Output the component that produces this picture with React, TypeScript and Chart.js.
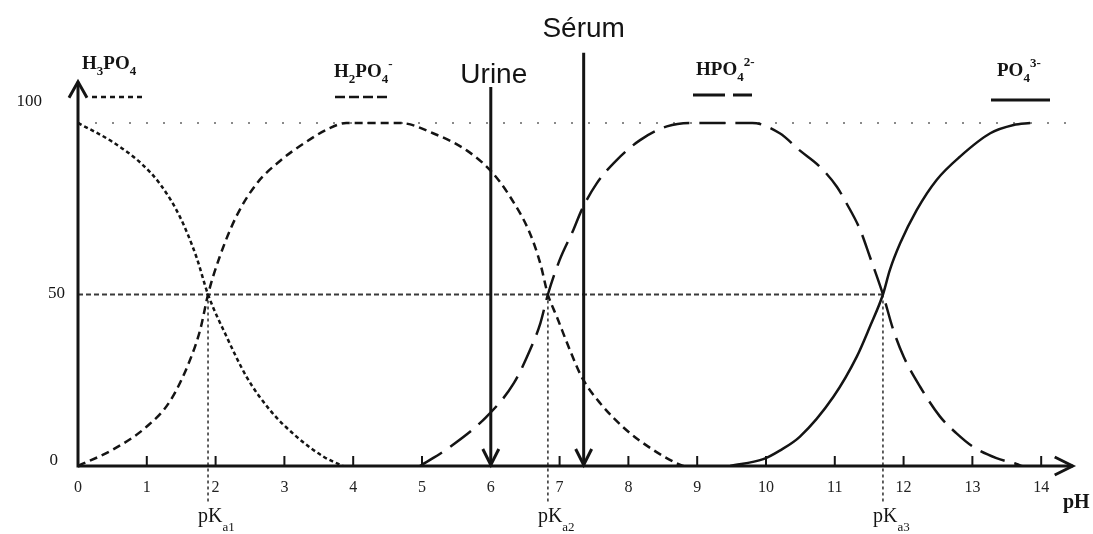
import React, { useEffect, useRef } from 'react';
import { Chart, registerables } from 'chart.js';

Chart.register(...registerables);

// ---- Data ----
const h3po4PH = [0, 0.5, 0.93, 1.2, 1.48, 1.72, 1.89, 2.16, 2.45, 2.79, 3.18, 3.57, 3.85];
const h3po4Pct = [100, 94.5, 88, 82, 72.7, 61, 50, 37.7, 26, 16.3, 8.5, 2.7, 0];

const h2po4PH = [0, 0.5, 1, 1.34, 1.63, 1.78, 1.89, 2.06, 2.3, 2.6, 2.94, 3.28, 3.66, 3.9, 4.68, 5.16, 5.65, 6.01, 6.28, 6.57, 6.72, 6.83, 6.96, 7.15, 7.32, 7.59, 7.97, 8.36, 8.7, 8.8];
const h2po4Pct = [0, 4.7, 11.5, 19, 31, 40, 50, 61, 72.7, 82.4, 89, 94, 98.5, 100, 100, 97, 92, 85.8, 78.5, 67.8, 59, 50, 43.5, 33.8, 26, 18.3, 10.5, 4.7, 0.8, 0];

const hpo4PH = [4.97, 5.41, 5.94, 6.33, 6.57, 6.72, 6.83, 7.0, 7.2, 7.32, 7.54, 7.83, 8.17, 8.56, 8.9, 9.8, 10.2, 10.49, 10.78, 11.03, 11.17, 11.37, 11.51, 11.7, 11.85, 12.0, 12.24, 12.53, 12.77, 13.01, 13.35, 13.64, 13.72];
const hpo4Pct = [0, 5.6, 14.4, 24, 33.8, 41.6, 50, 60, 68.8, 74.6, 82.4, 89.2, 95, 99, 100, 100, 97, 92, 87.3, 81.4, 76.6, 68.8, 61, 50, 39.7, 31.9, 23.1, 14.4, 9.5, 5.6, 2.3, 0.6, 0];

const po4PH = [9.48, 9.96, 10.2, 10.49, 10.98, 11.32, 11.51, 11.7, 11.8, 11.95, 12.19, 12.48, 12.82, 13.26, 13.6, 13.84];
const po4Pct = [0, 2, 4.5, 8.5, 20.2, 31.9, 40.6, 50, 57.1, 64.9, 74.6, 83.4, 90.2, 97, 99.4, 100];

const xTickValues = [0, 1, 2, 3, 4, 5, 6, 7, 8, 9, 10, 11, 12, 13, 14];
const yTickLabels = ['0', '50', '100'];
const pKaPH = [1.89, 6.83, 11.7];
const pKaSubs = ['a1', 'a2', 'a3'];
const halfLevel = 50;
const fullLevel = 100;
const markerPH = [6.0, 7.35];
const markerNames = ['Urine', 'Sérum'];

// ---- Styles / layout (not data) ----
const INK = '#141414';
const SERIF = '"Liberation Serif", "DejaVu Serif", serif';
const SANS = '"Liberation Sans", Arial, sans-serif';

type Part = [string, 'n' | 'b' | 'p'];

function drawRich(ctx: CanvasRenderingContext2D, x: number, y: number, parts: Part[], size: number, weight = 'bold') {
  let cx = x;
  ctx.textBaseline = 'alphabetic';
  ctx.textAlign = 'left';
  for (const [t, k] of parts) {
    const s = k === 'n' ? size : Math.round(size * 0.68);
    ctx.font = `${weight} ${s}px ${SERIF}`;
    const dy = k === 'b' ? size * 0.3 : k === 'p' ? -size * 0.5 : 0;
    ctx.fillText(t, cx, y + dy);
    cx += ctx.measureText(t).width;
  }
}

function chevron(ctx: CanvasRenderingContext2D, tx: number, ty: number, ax: number, ay: number, bx: number, by: number) {
  ctx.beginPath();
  ctx.moveTo(ax, ay);
  ctx.lineTo(tx, ty);
  ctx.lineTo(bx, by);
  ctx.stroke();
}

const legendItems: { parts: Part[]; tx: number; ty: number; x1: number; x2: number; ly: number; dash: number[]; w: number }[] = [
  { parts: [['H', 'n'], ['3', 'b'], ['PO', 'n'], ['4', 'b']], tx: 82, ty: 69, x1: 92, x2: 144, ly: 97, dash: [5, 4], w: 2.5 },
  { parts: [['H', 'n'], ['2', 'b'], ['PO', 'n'], ['4', 'b'], ['-', 'p']], tx: 334, ty: 77, x1: 335, x2: 389, ly: 97, dash: [10, 4], w: 2.5 },
  { parts: [['HPO', 'n'], ['4', 'b'], ['2-', 'p']], tx: 696, ty: 75, x1: 693, x2: 752, ly: 95, dash: [32, 8], w: 3 },
  { parts: [['PO', 'n'], ['4', 'b'], ['3-', 'p']], tx: 997, ty: 76, x1: 991, x2: 1050, ly: 100, dash: [], w: 3 },
];

const decorPlugin = {
  id: 'decor',
  beforeDatasetsDraw(chart: any) {
    const { ctx, scales } = chart;
    const x = scales.x, y = scales.y;
    const x0 = x.getPixelForValue(0);
    const y0 = y.getPixelForValue(0);
    ctx.save();
    // 100 % dotted line
    ctx.strokeStyle = '#8a8a8a';
    ctx.lineWidth = 2;
    ctx.setLineDash([2, 15]);
    ctx.beginPath();
    ctx.moveTo(x0, y.getPixelForValue(fullLevel));
    ctx.lineTo(x.getPixelForValue(14.4), y.getPixelForValue(fullLevel));
    ctx.stroke();
    // 50 % dashed line up to last pKa
    ctx.strokeStyle = '#3a3a3a';
    ctx.lineWidth = 2;
    ctx.setLineDash([5, 3]);
    ctx.beginPath();
    ctx.moveTo(x0, y.getPixelForValue(halfLevel));
    ctx.lineTo(x.getPixelForValue(pKaPH[pKaPH.length - 1]), y.getPixelForValue(halfLevel));
    ctx.stroke();
    // pKa verticals
    ctx.lineWidth = 1.6;
    ctx.setLineDash([3, 3]);
    for (const p of pKaPH) {
      const px = x.getPixelForValue(p);
      ctx.beginPath();
      ctx.moveTo(px, y.getPixelForValue(halfLevel));
      ctx.lineTo(px, y0 + 36);
      ctx.stroke();
    }
    ctx.restore();
  },
  afterDatasetsDraw(chart: any) {
    const { ctx, scales } = chart;
    const x = scales.x, y = scales.y;
    const x0 = x.getPixelForValue(0);
    const y0 = y.getPixelForValue(0);
    ctx.save();
    ctx.strokeStyle = INK;
    ctx.fillStyle = INK;
    ctx.setLineDash([]);
    ctx.lineCap = 'butt';
    // axes
    ctx.lineWidth = 3;
    const xEnd = x.getPixelForValue(14.4) + 4;
    ctx.beginPath();
    ctx.moveTo(x0, y0);
    ctx.lineTo(xEnd, y0);
    ctx.stroke();
    chevron(ctx, xEnd, y0, xEnd - 18, y0 - 9, xEnd - 18, y0 + 9);
    const yTop = y.getPixelForValue(112);
    ctx.beginPath();
    ctx.moveTo(x0, y0 + 1.5);
    ctx.lineTo(x0, yTop);
    ctx.stroke();
    chevron(ctx, x0, yTop, x0 - 9, yTop + 16, x0 + 9, yTop + 16);
    // tick marks above axis
    ctx.lineWidth = 2;
    for (const v of xTickValues) {
      if (v === 0) continue;
      const px = x.getPixelForValue(v);
      ctx.beginPath();
      ctx.moveTo(px, y0);
      ctx.lineTo(px, y0 - 10);
      ctx.stroke();
    }
    // y labels
    ctx.textBaseline = 'middle';
    ctx.textAlign = 'right';
    ctx.font = `17px ${SERIF}`;
    ctx.fillText(yTickLabels[0], 58, y0 - 5);
    ctx.fillText(yTickLabels[1], 65, y.getPixelForValue(50) - 1);
    ctx.fillText(yTickLabels[2], 42, yTop + 20);
    // pH label
    ctx.textAlign = 'left';
    ctx.textBaseline = 'alphabetic';
    ctx.font = `bold 20px ${SERIF}`;
    ctx.fillText('pH', 1063, 508);
    // pKa labels
    pKaPH.forEach((p, i) => {
      const px = x.getPixelForValue(p);
      ctx.font = `20px ${SERIF}`;
      ctx.fillText('pK', px - 10, 522);
      const w = ctx.measureText('pK').width;
      ctx.font = `13px ${SERIF}`;
      ctx.fillText(pKaSubs[i], px - 10 + w, 531);
    });
    // Urine / Serum arrows
    ctx.lineWidth = 3;
    const tops = [110.5, 120.5];
    const textY = [83, 37];
    const textDx = [3, 0];
    markerPH.forEach((p, i) => {
      const px = x.getPixelForValue(p);
      ctx.beginPath();
      ctx.moveTo(px, y.getPixelForValue(tops[i]));
      ctx.lineTo(px, y0 - 1);
      ctx.stroke();
      chevron(ctx, px, y0 - 1, px - 8, y0 - 17, px + 8, y0 - 17);
      ctx.font = `28px ${SANS}`;
      ctx.textAlign = 'center';
      ctx.fillText(markerNames[i], px + textDx[i], textY[i]);
    });
    // legend
    for (const it of legendItems) {
      ctx.fillStyle = INK;
      drawRich(ctx, it.tx, it.ty, it.parts, 19);
      ctx.strokeStyle = INK;
      ctx.lineWidth = it.w;
      ctx.setLineDash(it.dash);
      ctx.beginPath();
      ctx.moveTo(it.x1, it.ly);
      ctx.lineTo(it.x2, it.ly);
      ctx.stroke();
    }
    ctx.restore();
  },
};

function pts(xs: number[], ys: number[]) {
  return xs.map((v, i) => ({ x: v, y: ys[i] }));
}

export default function App() {
  const ref = useRef<HTMLCanvasElement>(null);
  useEffect(() => {
    if (!ref.current) return;
    const common = { pointRadius: 0, borderColor: INK, fill: false, cubicInterpolationMode: 'monotone' as const, borderWidth: 2.5 };
    const chart = new Chart(ref.current, {
      type: 'line',
      data: {
        datasets: [
          { label: 'H3PO4', data: pts(h3po4PH, h3po4Pct), borderDash: [4, 3], ...common },
          { label: 'H2PO4-', data: pts(h2po4PH, h2po4Pct), borderDash: [8, 5], ...common },
          { label: 'HPO4 2-', data: pts(hpo4PH, hpo4Pct), borderDash: [26, 10], ...common },
          { label: 'PO4 3-', data: pts(po4PH, po4Pct), borderDash: [], ...common },
        ],
      },
      options: {
        responsive: false,
        animation: false,
        events: [],
        layout: { padding: { left: 78, right: 24.3, top: 81.8, bottom: 24.8 } },
        plugins: { legend: { display: false }, tooltip: { enabled: false } },
        scales: {
          x: {
            type: 'linear',
            min: 0,
            max: 14.4,
            grid: { display: false, drawTicks: false },
            border: { display: false },
            afterBuildTicks: (s: any) => {
              s.ticks = xTickValues.map((v) => ({ value: v }));
            },
            ticks: {
              autoSkip: false,
              maxRotation: 0,
              padding: 12,
              color: '#222',
              font: { family: SERIF, size: 16 },
              callback: (v: any) => String(v),
            },
          },
          y: { type: 'linear', min: 0, max: 112, display: false },
        },
      },
      plugins: [decorPlugin],
    });
    return () => chart.destroy();
  }, []);
  return (
    <div style={{ position: 'fixed', left: 0, top: 0, width: 1093, height: 534, background: '#fff' }}>
      <canvas ref={ref} width={1093} height={534} style={{ display: 'block' }} />
    </div>
  );
}
